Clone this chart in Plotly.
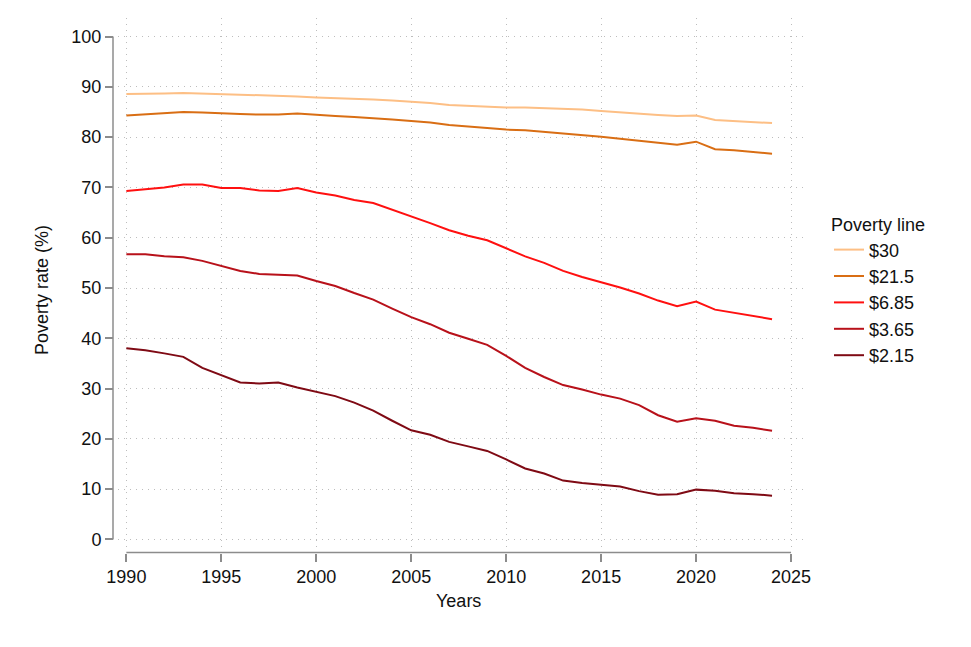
import plotly.graph_objects as go

years = [1990, 1991, 1992, 1993, 1994, 1995, 1996, 1997, 1998, 1999,
         2000, 2001, 2002, 2003, 2004, 2005, 2006, 2007, 2008, 2009,
         2010, 2011, 2012, 2013, 2014, 2015, 2016, 2017, 2018, 2019,
         2020, 2021, 2022, 2023, 2024]

pov_30 = [88.6, 88.6, 88.7, 88.8, 88.7, 88.5, 88.4, 88.3, 88.2, 88.1,
          87.9, 87.8, 87.7, 87.5, 87.3, 87.1, 86.8, 86.4, 86.2, 86.1,
          85.9, 85.9, 85.8, 85.6, 85.5, 85.2, 84.9, 84.7, 84.4, 84.2,
          84.3, 83.4, 83.2, 83.0, 82.8]
pov_21_5 = [84.3, 84.5, 84.7, 85.0, 84.9, 84.7, 84.6, 84.5, 84.5, 84.7,
            84.4, 84.2, 84.0, 83.8, 83.5, 83.2, 82.9, 82.4, 82.1, 81.9,
            81.5, 81.4, 81.1, 80.7, 80.4, 80.1, 79.7, 79.3, 78.9, 78.5,
            79.1, 77.6, 77.4, 77.1, 76.7]
pov_6_85 = [69.3, 69.6, 70.0, 70.6, 70.6, 69.9, 69.9, 69.4, 69.3, 69.9,
            69.0, 68.4, 67.5, 66.9, 65.6, 64.3, 62.9, 61.5, 60.4, 59.5,
            57.9, 56.3, 55.0, 53.4, 52.2, 51.2, 50.1, 48.9, 47.5, 46.4,
            47.3, 45.7, 45.1, 44.4, 43.8]
pov_3_65 = [56.7, 56.7, 56.3, 56.1, 55.4, 54.4, 53.4, 52.8, 52.7, 52.5,
            51.4, 50.4, 49.0, 47.7, 45.9, 44.2, 42.8, 41.1, 39.9, 38.7,
            36.5, 34.1, 32.3, 30.7, 29.8, 28.8, 28.0, 26.7, 24.7, 23.4,
            24.1, 23.6, 22.6, 22.2, 21.6]
pov_2_15 = [38.0, 37.6, 37.0, 36.3, 34.1, 32.6, 31.2, 31.0, 31.2, 30.2,
            29.4, 28.5, 27.2, 25.6, 23.6, 21.7, 20.8, 19.4, 18.5, 17.6,
            15.9, 14.1, 13.1, 11.7, 11.2, 10.8, 10.5, 9.6, 8.9, 9.0,
            9.9, 9.7, 9.2, 9.0, 8.7]

series_names = ["$30", "$21.5", "$6.85", "$3.65", "$2.15"]
series_values = [pov_30, pov_21_5, pov_6_85, pov_3_65, pov_2_15]
series_colors = ["#FDBF85", "#D96E14", "#FF1010", "#B8111A", "#7F0A14"]

x_ticks = [1990, 1995, 2000, 2005, 2010, 2015, 2020, 2025]
y_ticks = [0, 10, 20, 30, 40, 50, 60, 70, 80, 90, 100]

FONT = "Liberation Sans, Arial, sans-serif"
FS = 18
AXIS_GRAY = "#8C8C8C"
TXT = "#111111"

fig = go.Figure()
for name, vals, col in zip(series_names, series_values, series_colors):
    fig.add_trace(go.Scatter(x=years, y=vals, name=name, mode="lines",
                             line=dict(color=col, width=2)))

W, H = 971, 647
ml, mr, mt, mb = 108, 168, 18, 90
pw = W - ml - mr
ph = H - mt - mb


def px_x(p):
    return (p - ml) / pw


def px_y(p):
    return (H - mb - p) / ph


y_axis_pos = px_x(113)
x_axis_pos = px_y(552.5)

fig.update_layout(
    width=W, height=H,
    margin=dict(l=ml, r=mr, t=mt, b=mb),
    paper_bgcolor="white", plot_bgcolor="white",
    font=dict(family=FONT, size=FS, color=TXT),
    xaxis=dict(
        domain=[px_x(118), 1], range=[1989.56, 2025.63],
        anchor="free", position=x_axis_pos,
        tickvals=x_ticks, ticks="outside", ticklen=8, tickwidth=1.5,
        tickcolor=AXIS_GRAY, showline=False, zeroline=False,
        showgrid=True, gridcolor="#BDBDBD", gridwidth=1, griddash="1px,5px",
        tickfont=dict(family=FONT, size=FS, color=TXT),
    ),
    yaxis=dict(
        domain=[px_y(546.7), 1], range=[-1.45, 103.7],
        anchor="free", position=y_axis_pos,
        tickvals=y_ticks, ticks="outside", ticklen=8, tickwidth=1.5,
        tickcolor=AXIS_GRAY, showline=False, zeroline=False,
        showgrid=True, gridcolor="#BDBDBD", gridwidth=1, griddash="1px,5px",
        tickfont=dict(family=FONT, size=FS, color=TXT),
    ),
    legend=dict(
        title=dict(text="Poverty line", font=dict(family=FONT, size=FS, color=TXT)),
        x=px_x(829), y=px_y(208), xanchor="left", yanchor="top",
        font=dict(family=FONT, size=FS, color=TXT),
        bgcolor="rgba(0,0,0,0)", tracegroupgap=0,
    ),
    showlegend=True,
    shapes=[
        dict(type="line", xref="paper", yref="y", x0=y_axis_pos, x1=y_axis_pos,
             y0=0, y1=100, line=dict(color=AXIS_GRAY, width=1.5)),
        dict(type="line", xref="x", yref="paper", x0=1990, x1=2025,
             y0=x_axis_pos, y1=x_axis_pos, line=dict(color=AXIS_GRAY, width=1.5)),
    ],
    annotations=[
        dict(text="Poverty rate (%)", xref="paper", yref="paper",
             x=px_x(42), y=px_y(290), textangle=-90, showarrow=False,
             xanchor="center", yanchor="middle",
             font=dict(family=FONT, size=FS, color=TXT)),
        dict(text="Years", xref="x", yref="paper", x=2007.5, y=px_y(601),
             showarrow=False, xanchor="center", yanchor="middle",
             font=dict(family=FONT, size=FS, color=TXT)),
    ],
)

fig.write_html("out.html")
